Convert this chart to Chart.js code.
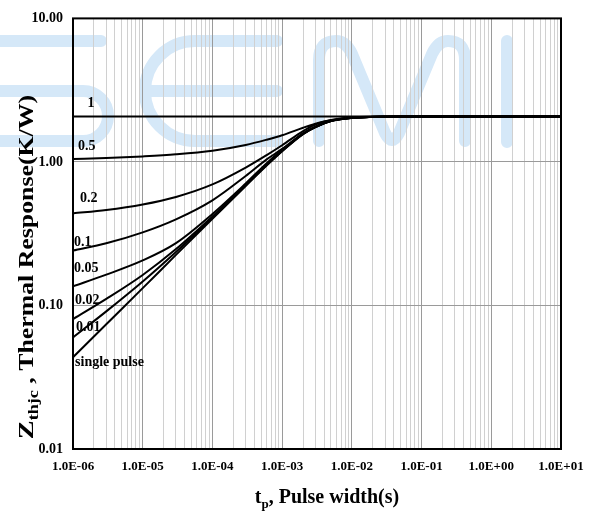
<!DOCTYPE html>
<html>
<head>
<meta charset="utf-8">
<script src="https://cdn.jsdelivr.net/npm/chart.js@4"></script>
<style>
  html, body { margin: 0; padding: 0; background: #fff; }
  #wrap { width: 596px; height: 516px; position: relative; }
</style>
</head>
<body>
<div id="wrap"><canvas id="myChart"></canvas></div>
<script>
// pulse width (s), shared by all curves
const pulseWidth = [1e-6, 3e-6, 1e-5, 3e-5, 1e-4, 3e-4, 6e-4, 1e-3, 2e-3, 3e-3, 5e-3, 1e-2, 2e-2, 5e-2, 10];

// Zthjc (K/W) for each duty cycle
const zD1     = [2.07, 2.07, 2.07, 2.07, 2.07, 2.07, 2.07, 2.07, 2.07, 2.07, 2.07, 2.07, 2.07, 2.07, 2.07];
const zD05    = [1.047, 1.064, 1.093, 1.130, 1.197, 1.313, 1.429, 1.535, 1.732, 1.846, 1.961, 2.041, 2.064, 2.07, 2.07];
const zD02    = [0.438, 0.462, 0.505, 0.570, 0.697, 0.913, 1.116, 1.307, 1.641, 1.823, 1.949, 2.035, 2.061, 2.07, 2.07];
const zD01    = [0.241, 0.271, 0.323, 0.398, 0.540, 0.798, 1.042, 1.232, 1.585, 1.760, 1.934, 2.029, 2.061, 2.07, 2.07];
const zD005   = [0.136, 0.164, 0.206, 0.272, 0.434, 0.708, 0.980, 1.213, 1.579, 1.757, 1.931, 2.029, 2.058, 2.07, 2.07];
const zD002   = [0.0803, 0.111, 0.163, 0.247, 0.417, 0.695, 0.958, 1.197, 1.572, 1.752, 1.927, 2.029, 2.058, 2.07, 2.07];
const zD001   = [0.0599, 0.0910, 0.147, 0.236, 0.409, 0.687, 0.950, 1.192, 1.567, 1.749, 1.927, 2.025, 2.058, 2.07, 2.07];
const zSingle = [0.0436, 0.0740, 0.132, 0.225, 0.401, 0.680, 0.943, 1.186, 1.562, 1.746, 1.924, 2.025, 2.058, 2.07, 2.07];

const curveNames = ['1', '0.5', '0.2', '0.1', '0.05', '0.02', '0.01', 'single pulse'];
const curveValues = [zD1, zD05, zD02, zD01, zD005, zD002, zD001, zSingle];

// where the curve names sit (data units)
const nameX = [1.61e-6, 1.18e-6, 1.26e-6, 1.03e-6, 1.03e-6, 1.07e-6, 1.10e-6, 1.07e-6];
const nameY = [2.55, 1.29, 0.554, 0.275, 0.182, 0.109, 0.0698, 0.040];

const xDecades = [1e-6, 1e-5, 1e-4, 1e-3, 1e-2, 1e-1, 1, 10];
const xTickLabels = ['1.0E-06', '1.0E-05', '1.0E-04', '1.0E-03', '1.0E-02', '1.0E-01', '1.0E+00', '1.0E+01'];
const yTickValues = [0.01, 0.1, 1, 10];
const yTickLabels = ['0.01', '0.10', '1.00', '10.00'];

const serif = 'Liberation Serif';

function isDecade(v) {
  const l = Math.log10(v);
  return Math.abs(l - Math.round(l)) < 1e-6;
}

function decadeIndex(list, v) {
  return list.findIndex(d => Math.abs(Math.log10(d) - Math.log10(v)) < 1e-6);
}

const datasets = curveValues.map((vals, i) => ({
  label: curveNames[i],
  data: pulseWidth.map((x, j) => ({ x: x, y: vals[j] })),
  borderColor: '#000',
  backgroundColor: '#000',
  borderWidth: 2,
  pointRadius: 0,
  cubicInterpolationMode: 'monotone',
  fill: false
}));

function drawWatermark(ctx) {
  ctx.save();
  ctx.strokeStyle = 'rgb(213,232,248)';
  ctx.lineWidth = 12;
  ctx.lineCap = 'round';
  ctx.lineJoin = 'round';
  ctx.beginPath();
  // S
  ctx.moveTo(-10, 41); ctx.lineTo(101, 41);
  ctx.moveTo(-10, 91); ctx.lineTo(83, 91);
  ctx.arc(83, 116, 25, -Math.PI / 2, Math.PI / 2);
  ctx.lineTo(-10, 141);
  // E
  ctx.moveTo(277, 41); ctx.lineTo(195, 41);
  ctx.arc(195, 91, 50, -Math.PI / 2, Math.PI / 2, true);
  ctx.lineTo(277, 141);
  ctx.moveTo(146, 91); ctx.lineTo(277, 91);
  // M
  ctx.moveTo(319, 141);
  ctx.lineTo(319, 60);
  ctx.quadraticCurveTo(319, 41, 336, 41);
  ctx.quadraticCurveTo(346, 41, 352, 54);
  ctx.lineTo(385, 133);
  ctx.quadraticCurveTo(392, 147, 399, 133);
  ctx.lineTo(432, 54);
  ctx.quadraticCurveTo(438, 41, 448, 41);
  ctx.quadraticCurveTo(465, 41, 465, 60);
  ctx.lineTo(465, 141);
  // I
  ctx.moveTo(507, 41); ctx.lineTo(507, 142);
  ctx.stroke();
  ctx.restore();
}

function partsWidth(ctx, parts) {
  let w = 0;
  parts.forEach(p => {
    ctx.font = 'bold ' + p.size + 'px "' + serif + '"';
    w += ctx.measureText(p.text).width;
  });
  return w;
}

function drawParts(ctx, parts, x) {
  parts.forEach(p => {
    ctx.font = 'bold ' + p.size + 'px "' + serif + '"';
    ctx.fillText(p.text, x, p.dy || 0);
    x += ctx.measureText(p.text).width;
  });
}

const decorPlugin = {
  id: 'decor',
  beforeDraw(chart) {
    drawWatermark(chart.ctx);
  },
  afterDraw(chart) {
    const ctx = chart.ctx;
    const a = chart.chartArea;
    const xs = chart.scales.x, ys = chart.scales.y;

    // frame
    ctx.save();
    ctx.strokeStyle = '#000';
    ctx.lineWidth = 2;
    ctx.strokeRect(a.left, a.top, a.right - a.left, a.bottom - a.top);
    ctx.restore();

    // curve names
    ctx.save();
    ctx.fillStyle = '#000';
    ctx.font = 'bold 14px "' + serif + '"';
    ctx.textAlign = 'left';
    ctx.textBaseline = 'middle';
    curveNames.forEach((n, i) => {
      ctx.fillText(n, xs.getPixelForValue(nameX[i]), ys.getPixelForValue(nameY[i]));
    });
    ctx.restore();

    // x title
    const xParts = [
      { text: 't', size: 20 },
      { text: 'p', size: 13, dy: 5 },
      { text: ', Pulse width(s)', size: 20 }
    ];
    ctx.save();
    ctx.fillStyle = '#000';
    ctx.textBaseline = 'alphabetic';
    ctx.textAlign = 'left';
    ctx.translate(327, 503);
    drawParts(ctx, xParts, -partsWidth(ctx, xParts) / 2);
    ctx.restore();

    // y title (stretched along its length like the original)
    const yParts = [
      { text: 'Z', size: 22 },
      { text: 'thjc', size: 14, dy: 5 },
      { text: ' , Thermal Response(K/W)', size: 20 }
    ];
    ctx.save();
    ctx.fillStyle = '#000';
    ctx.textBaseline = 'alphabetic';
    ctx.textAlign = 'left';
    ctx.translate(33, 267);
    ctx.rotate(-Math.PI / 2);
    ctx.scale(1.29, 1);
    drawParts(ctx, yParts, -partsWidth(ctx, yParts) / 2);
    ctx.restore();
  }
};

const config = {
  type: 'line',
  data: { datasets: datasets },
  options: {
    responsive: true,
    maintainAspectRatio: false,
    animation: false,
    layout: { padding: { left: 0, right: 35, top: 15, bottom: 0 } },
    plugins: {
      legend: { display: false },
      tooltip: { enabled: false }
    },
    scales: {
      x: {
        type: 'logarithmic',
        min: 1e-6,
        max: 10,
        afterBuildTicks(scale) {
          const ticks = [];
          xDecades.forEach((d, i) => {
            ticks.push({ value: d });
            if (i < xDecades.length - 1) {
              for (let m = 2; m <= 9; m++) ticks.push({ value: parseFloat((d * m).toPrecision(3)) });
            }
          });
          scale.ticks = ticks;
        },
        afterFit(scale) { scale.height = 67; },
        grid: {
          drawTicks: false,
          lineWidth: 1,
          color: ctx => (ctx.tick && isDecade(ctx.tick.value)) ? '#9a9a9a' : '#d0d0d0'
        },
        border: { display: false },
        ticks: {
          autoSkip: false,
          maxRotation: 0,
          padding: 10,
          color: '#000',
          font: { family: serif, size: 13, weight: 'bold' },
          callback(val, idx, ticks) {
            const k = decadeIndex(xDecades, ticks[idx].value);
            return k >= 0 ? xTickLabels[k] : '';
          }
        }
      },
      y: {
        type: 'logarithmic',
        min: 0.01,
        max: 10,
        afterBuildTicks(scale) {
          scale.ticks = yTickValues.map(v => ({ value: v }));
        },
        afterFit(scale) { scale.width = 73; },
        grid: {
          drawTicks: false,
          lineWidth: 1,
          color: '#9a9a9a'
        },
        border: { display: false },
        ticks: {
          padding: 10,
          color: '#000',
          font: { family: serif, size: 14, weight: 'bold' },
          callback(val, idx, ticks) {
            const k = decadeIndex(yTickValues, ticks[idx].value);
            return k >= 0 ? yTickLabels[k] : '';
          }
        }
      }
    }
  },
  plugins: [decorPlugin]
};

const myChart = new Chart(document.getElementById('myChart'), config);
</script>
</body>
</html>
